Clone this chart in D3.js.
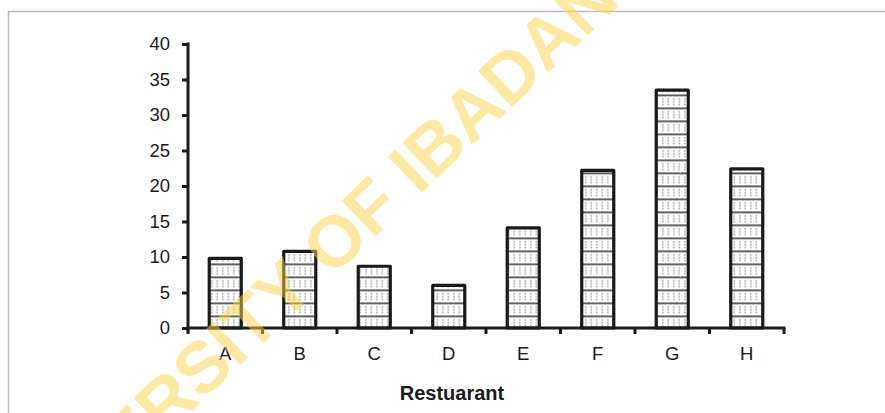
<!DOCTYPE html>
<html><head><meta charset="utf-8">
<script src="https://cdn.jsdelivr.net/npm/d3@7/dist/d3.min.js"></script>
<style>html,body{margin:0;padding:0;background:#fff;}svg{display:block;}</style>
</head><body>
<script>
const categories = ["A","B","C","D","E","F","G","H"];
const values = [9.8, 10.8, 8.7, 6.0, 14.1, 22.2, 33.5, 22.4];
const yTicks = [0,5,10,15,20,25,30,35,40];
const xTitle = "Restuarant";
const watermark = "UNIVERSITY OF IBADAN";

const W = 885, H = 413;
const svg = d3.select("body").append("svg").attr("width", W).attr("height", H);
const font = "Liberation Sans, Arial, sans-serif";

// frame
svg.append("path").attr("d", `M8.5,${H} V11.5 H${W}`).attr("fill","none").attr("stroke","#bdbdbd").attr("stroke-width",1.5);

const x = d3.scaleBand().domain(categories).range([188, 784]).paddingInner(0.57).paddingOuter(0.285);
const y = d3.scaleLinear().domain([0, 40]).range([328, 44]);

// pattern
const defs = svg.append("defs");
const pat = defs.append("pattern").attr("id","brick").attr("patternUnits","userSpaceOnUse")
  .attr("width",5.5).attr("height",13).attr("y", y(0) % 13 + 0.5);
pat.append("rect").attr("width",5.5).attr("height",13).attr("fill","#fff");
pat.append("rect").attr("x",0).attr("y",0).attr("width",5.5).attr("height",1.6).attr("fill","#3a3a3a");
[3.8,6.6,9.4].forEach(dy => pat.append("rect").attr("x",2.2).attr("y",dy).attr("width",1.2).attr("height",1.3).attr("fill","#6a6a6a"));

// bars
svg.append("g").selectAll("rect").data(values).join("rect")
  .attr("x", (d,i) => x(categories[i]))
  .attr("y", d => y(d))
  .attr("width", x.bandwidth())
  .attr("height", d => y(0) - y(d))
  .attr("fill","url(#brick)")
  .attr("stroke","#1a1a1a").attr("stroke-width",3.2).attr("stroke-linejoin","round");

// y axis
const gy = svg.append("g").attr("transform","translate(188,0)")
  .call(d3.axisLeft(y).tickValues(yTicks).tickSize(6).tickPadding(12).tickFormat(d3.format("d")));
gy.select(".domain").attr("stroke","#1a1a1a").attr("stroke-width",3).attr("d","M0,42.5V331");
gy.selectAll(".tick line").attr("stroke","#1a1a1a").attr("stroke-width",3);
gy.selectAll(".tick text").attr("font-family",font).attr("font-size",18.5).attr("fill","#1a1a1a");

// x axis
const gx = svg.append("g").attr("transform",`translate(0,${y(0)})`)
  .call(d3.axisBottom(x).tickSize(0).tickPadding(19));
gx.select(".domain").attr("stroke","#1a1a1a").attr("stroke-width",3).attr("d","M186.5,0H785.5");
gx.selectAll(".tick text").attr("font-family",font).attr("font-size",18.5).attr("fill","#1a1a1a");
const step = x.step();
const bounds = d3.range(categories.length + 1).map(i => 188 + i * step);
gx.selectAll("line.sep").data(bounds).join("line").attr("class","sep")
  .attr("x1", d => d).attr("x2", d => d).attr("y1", 0).attr("y2", 6)
  .attr("stroke","#1a1a1a").attr("stroke-width",3);

// x title
svg.append("text").attr("x",452).attr("y",400).attr("text-anchor","middle")
  .attr("font-family",font).attr("font-weight","bold").attr("font-size",20).attr("fill","#1a1a1a").text(xTitle);

// watermark
svg.append("text").attr("transform","translate(300,282) rotate(-43.5)")
  .attr("text-anchor","middle").attr("dominant-baseline","middle")
  .attr("font-family",font).attr("font-weight","bold").attr("font-size",72)
  .attr("fill","#ffd24a").attr("fill-opacity",0.5).text(watermark);
</script>
</body></html>
